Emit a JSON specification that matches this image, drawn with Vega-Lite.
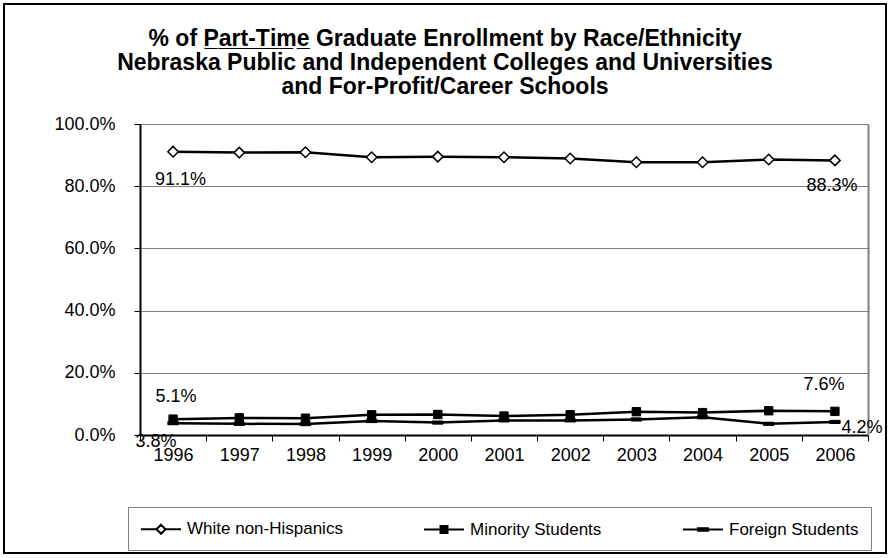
{
  "$schema": "https://vega.github.io/schema/vega-lite/v6.json",
  "width": 882,
  "height": 549,
  "autosize": {"type": "none"},
  "padding": {"left": 4, "top": 4, "right": 4, "bottom": 5},
  "background": "white",
  "config": {
    "view": {"stroke": "black", "strokeWidth": 2},
    "font": "Liberation Sans",
    "text": {"font": "Liberation Sans", "fontSize": 18, "color": "black"}
  },
  "title": {
    "text": [
      "% of P\u0332a\u0332r\u0332t\u0332-\u0332T\u0332i\u0332m\u0332e\u0332 Graduate Enrollment by Race/Ethnicity",
      "Nebraska Public and Independent Colleges and Universities",
      "and For-Profit/Career Schools"
    ],
    "font": "Liberation Sans",
    "fontSize": 23,
    "fontWeight": "bold",
    "color": "black",
    "anchor": "middle",
    "frame": "group",
    "lineHeight": 24,
    "offset": -95
  },
  "data": {
    "values": [
      {"year": "1996", "series": "White non-Hispanics", "pct": 0.911},
      {"year": "1997", "series": "White non-Hispanics", "pct": 0.908},
      {"year": "1998", "series": "White non-Hispanics", "pct": 0.909},
      {"year": "1999", "series": "White non-Hispanics", "pct": 0.893},
      {"year": "2000", "series": "White non-Hispanics", "pct": 0.895},
      {"year": "2001", "series": "White non-Hispanics", "pct": 0.893},
      {"year": "2002", "series": "White non-Hispanics", "pct": 0.889},
      {"year": "2003", "series": "White non-Hispanics", "pct": 0.877},
      {"year": "2004", "series": "White non-Hispanics", "pct": 0.877},
      {"year": "2005", "series": "White non-Hispanics", "pct": 0.886},
      {"year": "2006", "series": "White non-Hispanics", "pct": 0.883},
      {"year": "1996", "series": "Minority Students", "pct": 0.051},
      {"year": "1997", "series": "Minority Students", "pct": 0.055},
      {"year": "1998", "series": "Minority Students", "pct": 0.054},
      {"year": "1999", "series": "Minority Students", "pct": 0.065},
      {"year": "2000", "series": "Minority Students", "pct": 0.066},
      {"year": "2001", "series": "Minority Students", "pct": 0.061},
      {"year": "2002", "series": "Minority Students", "pct": 0.065},
      {"year": "2003", "series": "Minority Students", "pct": 0.075},
      {"year": "2004", "series": "Minority Students", "pct": 0.072},
      {"year": "2005", "series": "Minority Students", "pct": 0.078},
      {"year": "2006", "series": "Minority Students", "pct": 0.076},
      {"year": "1996", "series": "Foreign Students", "pct": 0.038},
      {"year": "1997", "series": "Foreign Students", "pct": 0.036},
      {"year": "1998", "series": "Foreign Students", "pct": 0.035},
      {"year": "1999", "series": "Foreign Students", "pct": 0.045},
      {"year": "2000", "series": "Foreign Students", "pct": 0.040},
      {"year": "2001", "series": "Foreign Students", "pct": 0.047},
      {"year": "2002", "series": "Foreign Students", "pct": 0.047},
      {"year": "2003", "series": "Foreign Students", "pct": 0.050},
      {"year": "2004", "series": "Foreign Students", "pct": 0.057},
      {"year": "2005", "series": "Foreign Students", "pct": 0.036},
      {"year": "2006", "series": "Foreign Students", "pct": 0.042}
    ]
  },
  "encoding": {
    "x": {
      "field": "year",
      "type": "ordinal",
      "scale": {"type": "band", "range": [136, 864], "paddingInner": 0, "paddingOuter": 0},
      "axis": {
        "orient": "bottom",
        "offset": -118,
        "tickBand": "extent",
        "labelAngle": 0,
        "grid": false,
        "domainColor": "black",
        "domainWidth": 2,
        "tickColor": "black",
        "tickSize": 6,
        "tickWidth": 1,
        "labelFont": "Liberation Sans",
        "labelFontSize": 18,
        "labelColor": "black",
        "labelPadding": 5,
        "title": null
      }
    }
  },
  "resolve": {"axis": {"y": "independent"}},
  "layer": [
    {
      "mark": {"type": "line", "strokeWidth": 2.5},
      "encoding": {
        "y": {
          "field": "pct",
          "type": "quantitative",
          "scale": {"domain": [0, 1], "range": [431, 120], "nice": false, "zero": true},
          "axis": {
            "orient": "left",
            "offset": -136,
            "values": [0, 0.2, 0.4, 0.6, 0.8, 1],
            "format": ".1%",
            "grid": true,
            "gridColor": "#808080",
            "gridWidth": 1,
            "domainColor": "black",
            "domainWidth": 2,
            "tickColor": "black",
            "tickSize": 6,
            "tickWidth": 1,
            "labelFont": "Liberation Sans",
            "labelFontSize": 18,
            "labelColor": "black",
            "labelPadding": 19,
            "title": null
          }
        },
        "color": {
          "field": "series",
          "type": "nominal",
          "scale": {
            "domain": ["White non-Hispanics", "Minority Students", "Foreign Students"],
            "range": ["black", "black", "black"]
          },
          "legend": {
            "orient": "none",
            "legendX": 124,
            "legendY": 503,
            "direction": "horizontal",
            "title": null,
            "strokeColor": "#808080",
            "padding": 12,
            "columnPadding": 77,
            "labelFont": "Liberation Sans",
            "labelFontSize": 17,
            "labelColor": "black",
            "labelOffset": 16,
            "symbolSize": 324,
            "symbolOffset": 11,
            "symbolStrokeWidth": 2,
            "encode": {
              "symbols": {
                "update": {
                  "shape": {"signal": "datum.value === 'White non-Hispanics' ? 'M-2.22,0L-0.5,0M0.5,0L2.22,0M-0.5,0L0,-0.5L0.5,0L0,0.5Z' : datum.value === 'Minority Students' ? 'M-2.22,0L2.22,0M-0.39,-0.39L0.39,-0.39L0.39,0.39L-0.39,0.39Z' : 'M-2.22,0L2.22,0M-0.55,-0.15L0.55,-0.15L0.55,0.15L-0.55,0.15Z'"},
                  "fill": {"signal": "datum.value === 'White non-Hispanics' ? 'white' : 'black'"},
                  "stroke": {"value": "black"},
                  "strokeWidth": {"value": 2}
                }
              }
            }
          }
        }
      }
    },
    {
      "transform": [{"filter": "datum.series === 'White non-Hispanics'"}],
      "mark": {"type": "point", "shape": "diamond", "filled": true, "fill": "white", "stroke": "black", "strokeWidth": 1.5, "size": 110, "opacity": 1},
      "encoding": {
        "y": {
          "field": "pct",
          "type": "quantitative",
          "axis": {
            "orient": "right",
            "offset": -18,
            "grid": false,
            "ticks": false,
            "labels": false,
            "domainColor": "#808080",
            "domainWidth": 2,
            "title": null
          }
        }
      }
    },
    {
      "transform": [{"filter": "datum.series === 'Minority Students'"}],
      "mark": {"type": "point", "shape": "square", "filled": true, "fill": "black", "stroke": "black", "strokeWidth": 1, "size": 70, "opacity": 1},
      "encoding": {
        "y": {"field": "pct", "type": "quantitative", "axis": null}
      }
    },
    {
      "transform": [{"filter": "datum.series === 'Foreign Students'"}],
      "mark": {"type": "point", "shape": "M-1,-0.3L1,-0.3L1,0.3L-1,0.3Z", "filled": true, "fill": "black", "stroke": "black", "strokeWidth": 1, "size": 110, "opacity": 1},
      "encoding": {
        "y": {"field": "pct", "type": "quantitative", "axis": null}
      }
    },
    {
      "transform": [{"filter": "datum.series === 'White non-Hispanics' && datum.year === '1996'"}],
      "mark": {"type": "text", "align": "left", "baseline": "middle", "dx": -18, "dy": 28},
      "encoding": {
        "y": {"field": "pct", "type": "quantitative", "axis": null},
        "text": {"field": "pct", "type": "quantitative", "format": ".1%"}
      }
    },
    {
      "transform": [{"filter": "datum.series === 'White non-Hispanics' && datum.year === '2006'"}],
      "mark": {"type": "text", "align": "center", "baseline": "middle", "dx": -3, "dy": 26},
      "encoding": {
        "y": {"field": "pct", "type": "quantitative", "axis": null},
        "text": {"field": "pct", "type": "quantitative", "format": ".1%"}
      }
    },
    {
      "transform": [{"filter": "datum.series === 'Minority Students' && datum.year === '1996'"}],
      "mark": {"type": "text", "align": "center", "baseline": "middle", "dx": 3, "dy": -22},
      "encoding": {
        "y": {"field": "pct", "type": "quantitative", "axis": null},
        "text": {"field": "pct", "type": "quantitative", "format": ".1%"}
      }
    },
    {
      "transform": [{"filter": "datum.series === 'Minority Students' && datum.year === '2006'"}],
      "mark": {"type": "text", "align": "center", "baseline": "middle", "dx": -11, "dy": -26},
      "encoding": {
        "y": {"field": "pct", "type": "quantitative", "axis": null},
        "text": {"field": "pct", "type": "quantitative", "format": ".1%"}
      }
    },
    {
      "transform": [{"filter": "datum.series === 'Foreign Students' && datum.year === '1996'"}],
      "mark": {"type": "text", "align": "center", "baseline": "middle", "dx": -17, "dy": 19},
      "encoding": {
        "y": {"field": "pct", "type": "quantitative", "axis": null},
        "text": {"field": "pct", "type": "quantitative", "format": ".1%"}
      }
    },
    {
      "transform": [{"filter": "datum.series === 'Foreign Students' && datum.year === '2006'"}],
      "mark": {"type": "text", "align": "center", "baseline": "middle", "dx": 27, "dy": 6},
      "encoding": {
        "y": {"field": "pct", "type": "quantitative", "axis": null},
        "text": {"field": "pct", "type": "quantitative", "format": ".1%"}
      }
    }
  ]
}
